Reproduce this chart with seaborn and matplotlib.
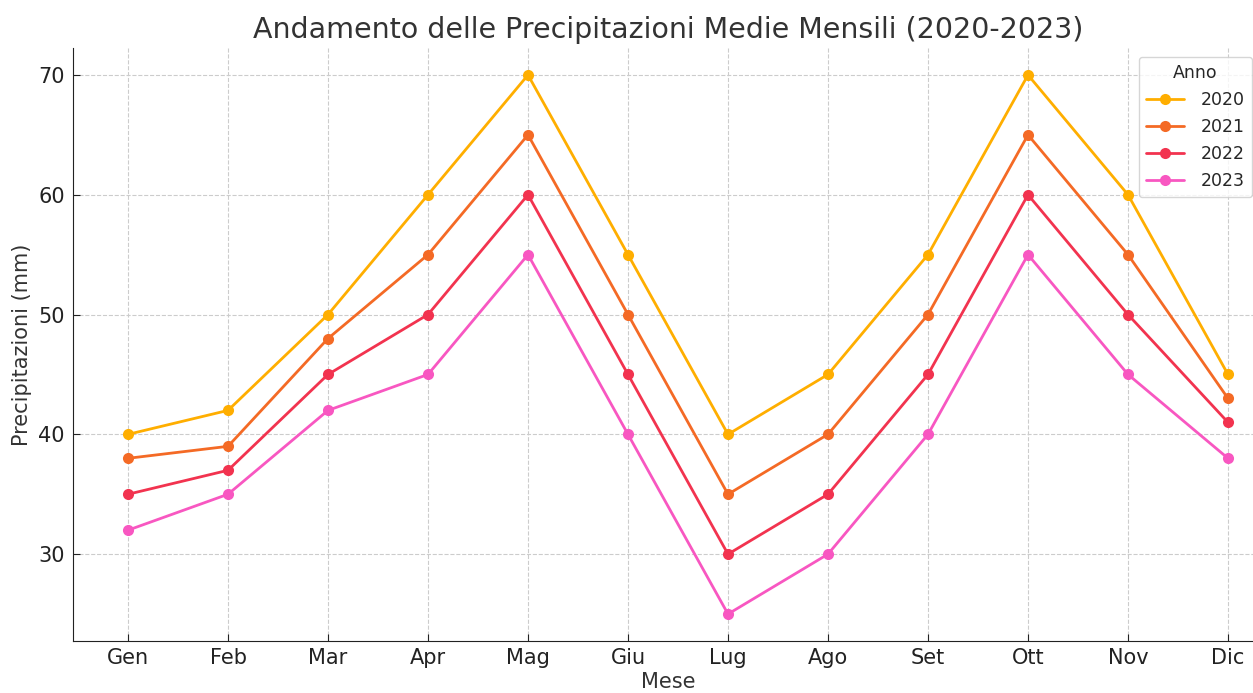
import matplotlib
matplotlib.use("Agg")
import matplotlib.pyplot as plt
import seaborn as sns
import pandas as pd

# monthly average precipitation (mm)
mesi = ["Gen", "Feb", "Mar", "Apr", "Mag", "Giu", "Lug", "Ago", "Set", "Ott", "Nov", "Dic"]
p2020 = [40, 42, 50, 60, 70, 55, 40, 45, 55, 70, 60, 45]
p2021 = [38, 39, 48, 55, 65, 50, 35, 40, 50, 65, 55, 43]
p2022 = [35, 37, 45, 50, 60, 45, 30, 35, 45, 60, 50, 41]
p2023 = [32, 35, 42, 45, 55, 40, 25, 30, 40, 55, 45, 38]
anni = ["2020", "2021", "2022", "2023"]
colori = ["#FFAE00", "#F46A25", "#F2334F", "#F857C1"]

df = pd.concat([
    pd.DataFrame({"Mese": mesi, "Precipitazioni": vals, "Anno": anno})
    for anno, vals in zip(anni, [p2020, p2021, p2022, p2023])
])

sns.set_style("ticks")
plt.rcParams["font.family"] = ["DejaVu Sans"]

fig = plt.figure(figsize=(12.53, 6.93), dpi=100)
ax = fig.add_axes([73 / 1253, 52 / 693, 1210 / 1253, 593 / 693])

sns.lineplot(data=df, x="Mese", y="Precipitazioni", hue="Anno",
             palette=colori, marker="o", markersize=8, markeredgewidth=0,
             linewidth=2, sort=False, ax=ax)

ax.grid(True, linestyle="--", color="#cccccc", linewidth=0.8)
sns.despine(ax=ax)
ax.spines["left"].set_color("#222222")
ax.spines["bottom"].set_color("#222222")
ax.tick_params(labelsize=15, colors="#222222", direction="in", length=5)
ax.tick_params(axis="x", pad=5)
ax.tick_params(axis="y", pad=6)
ax.set_yticks([30, 40, 50, 60, 70])
ax.set_title("Andamento delle Precipitazioni Medie Mensili (2020-2023)",
             fontsize=20.5, color="#333333", pad=7, x=0.4917)
ax.set_xlabel("Mese", fontsize=15, color="#333333", labelpad=3)
ax.xaxis.label.set_x(0.4917)
ax.set_ylabel("Precipitazioni (mm)", fontsize=15, color="#333333")

leg = ax.legend(title="Anno", fontsize=12.5, title_fontsize=12.5,
                loc="upper right", bbox_to_anchor=(1252 / 1253, 636 / 693),
                bbox_transform=fig.transFigure, borderaxespad=0,
                handlelength=2.2, handletextpad=1.0, labelspacing=0.52,
                frameon=True)
leg.get_frame().set_edgecolor("#cccccc")

fig.savefig("out.png", dpi=100)
